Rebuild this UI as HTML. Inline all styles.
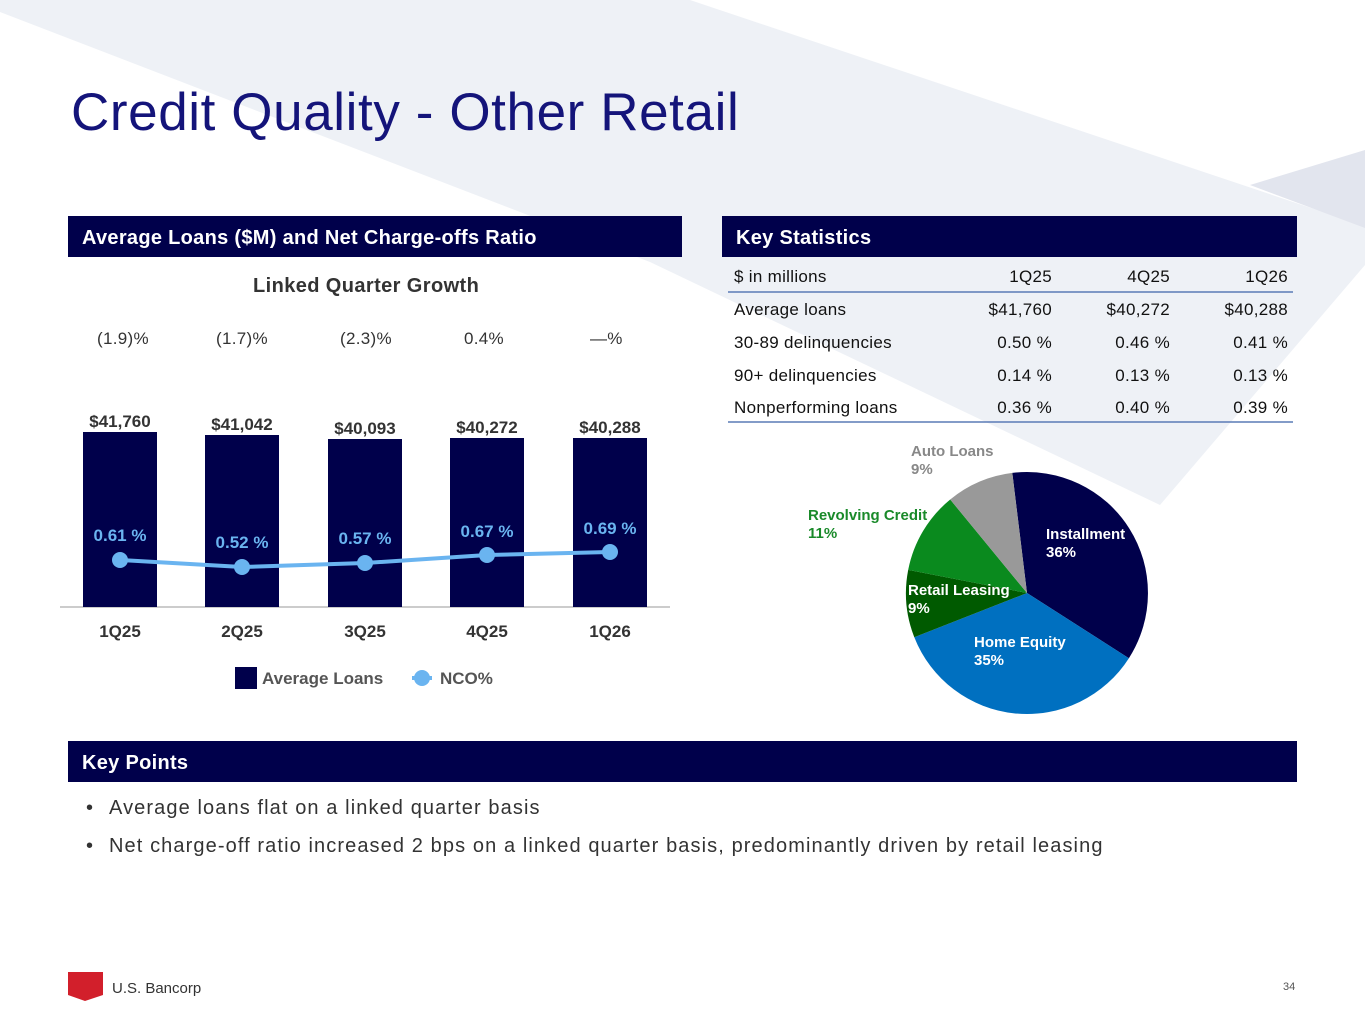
<!DOCTYPE html>
<html><head><meta charset="utf-8"><style>
body{margin:0;width:1365px;height:1024px;position:relative;overflow:hidden;background:#fff;font-family:"Liberation Sans",sans-serif}
.a{position:absolute;white-space:nowrap}
.hdr{position:absolute;background:#00004b;color:#fff;font-weight:bold;font-size:20px;height:41px;line-height:45px;padding-left:14px;box-sizing:border-box;letter-spacing:0.3px}
.t{font-size:17px;color:#111;letter-spacing:0.3px}
.r{text-align:right;width:120px}
</style></head><body>
<svg class="a" style="left:0;top:0" width="1365" height="1024">
<polygon points="0,0 690,0 1365,226 1365,265 1160,505 650,262 0,12" fill="#eef1f6"/>
<polygon points="1250,185 1365,150 1365,228" fill="#e2e5ee"/>
<line x1="60" y1="607" x2="670" y2="607" stroke="#bbb" stroke-width="1.5"/>
<rect x="83" y="432" width="74" height="175" fill="#00004b"/>
<rect x="205" y="435" width="74" height="172" fill="#00004b"/>
<rect x="328" y="439" width="74" height="168" fill="#00004b"/>
<rect x="450" y="438" width="74" height="169" fill="#00004b"/>
<rect x="573" y="438" width="74" height="169" fill="#00004b"/>
<polyline points="120,560 242,567 365,563 487,555 610,552" fill="none" stroke="#6ab4f0" stroke-width="4"/>
<g fill="#6ab4f0"><circle cx="120" cy="560" r="8"/><circle cx="242" cy="567" r="8"/><circle cx="365" cy="563" r="8"/><circle cx="487" cy="555" r="8"/><circle cx="610" cy="552" r="8"/></g>
<g font-family="Liberation Sans" font-weight="bold" font-size="17" fill="#6ab4f0" text-anchor="middle">
<text x="120" y="541">0.61 %</text><text x="242" y="548">0.52 %</text><text x="365" y="544">0.57 %</text><text x="487" y="537">0.67 %</text><text x="610" y="534">0.69 %</text></g>
<g font-family="Liberation Sans" font-weight="bold" font-size="17" fill="#333" text-anchor="middle">
<text x="120" y="427">$41,760</text><text x="242" y="430">$41,042</text><text x="365" y="434">$40,093</text><text x="487" y="433">$40,272</text><text x="610" y="433">$40,288</text>
<text x="120" y="637">1Q25</text><text x="242" y="637">2Q25</text><text x="365" y="637">3Q25</text><text x="487" y="637">4Q25</text><text x="610" y="637">1Q26</text></g>
<rect x="235" y="667" width="22" height="22" fill="#00004b"/>
<text x="262" y="684" font-family="Liberation Sans" font-weight="bold" font-size="17" fill="#555">Average Loans</text>
<line x1="412" y1="678" x2="432" y2="678" stroke="#6ab4f0" stroke-width="4"/><circle cx="422" cy="678" r="8" fill="#6ab4f0"/>
<text x="440" y="684" font-family="Liberation Sans" font-weight="bold" font-size="17" fill="#555">NCO%</text>
<line x1="728" y1="292" x2="1293" y2="292" stroke="#5a7bb5" stroke-width="1.5"/>
<line x1="728" y1="422" x2="1293" y2="422" stroke="#5a7bb5" stroke-width="1.5"/>
<path d="M1027,593 L1012.3,472.9 A121,121 0 0 1 1128.9,658.2 Z" fill="#00004b"/>
<path d="M1027,593 L1128.9,658.2 A121,121 0 0 1 914.3,637.2 Z" fill="#0070c0"/>
<path d="M1027,593 L914.3,637.2 A121,121 0 0 1 908.2,569.9 Z" fill="#005a00"/>
<path d="M1027,593 L908.2,569.9 A121,121 0 0 1 950.2,499.5 Z" fill="#0a8a1e"/>
<path d="M1027,593 L950.2,499.5 A121,121 0 0 1 1012.3,472.9 Z" fill="#999"/>
<g font-family="Liberation Sans" font-weight="bold" font-size="15">
<text x="911" y="456" fill="#888">Auto Loans</text><text x="911" y="474" fill="#888">9%</text>
<text x="808" y="520" fill="#1a8a2a">Revolving Credit</text><text x="808" y="538" fill="#1a8a2a">11%</text>
<text x="908" y="595" fill="#fff">Retail Leasing</text><text x="908" y="613" fill="#fff">9%</text>
<text x="1046" y="539" fill="#fff">Installment</text><text x="1046" y="557" fill="#fff">36%</text>
<text x="974" y="647" fill="#fff">Home Equity</text><text x="974" y="665" fill="#fff">35%</text></g>
<polygon points="68,972 103,972 103,995 85,1001 68,995" fill="#d21f2b"/>
</svg>
<div class="a" style="left:71px;top:82px;font-size:53px;color:#14147a;letter-spacing:0.6px">Credit Quality - Other Retail</div>
<div class="hdr" style="left:68px;top:216px;width:614px">Average Loans ($M) and Net Charge-offs Ratio</div>
<div class="hdr" style="left:722px;top:216px;width:575px">Key Statistics</div>
<div class="hdr" style="left:68px;top:741px;width:1229px">Key Points</div>
<div class="a" style="left:253px;top:275px;font-size:20px;font-weight:bold;color:#333;letter-spacing:0.4px">Linked Quarter Growth</div>
<div class="a t" style="left:97px;top:329px;color:#333">(1.9)%</div>
<div class="a t" style="left:216px;top:329px;color:#333">(1.7)%</div>
<div class="a t" style="left:340px;top:329px;color:#333">(2.3)%</div>
<div class="a t" style="left:464px;top:329px;color:#333">0.4%</div>
<div class="a t" style="left:590px;top:329px;color:#333">—%</div>
<div class="a t" style="left:734px;top:267px">$ in millions</div>
<div class="a t r" style="left:932px;top:267px">1Q25</div><div class="a t r" style="left:1050px;top:267px">4Q25</div><div class="a t r" style="left:1168px;top:267px">1Q26</div>
<div class="a t" style="left:734px;top:300px">Average loans</div>
<div class="a t r" style="left:932px;top:300px">$41,760</div><div class="a t r" style="left:1050px;top:300px">$40,272</div><div class="a t r" style="left:1168px;top:300px">$40,288</div>
<div class="a t" style="left:734px;top:333px">30-89 delinquencies</div>
<div class="a t r" style="left:932px;top:333px">0.50 %</div><div class="a t r" style="left:1050px;top:333px">0.46 %</div><div class="a t r" style="left:1168px;top:333px">0.41 %</div>
<div class="a t" style="left:734px;top:366px">90+ delinquencies</div>
<div class="a t r" style="left:932px;top:366px">0.14 %</div><div class="a t r" style="left:1050px;top:366px">0.13 %</div><div class="a t r" style="left:1168px;top:366px">0.13 %</div>
<div class="a t" style="left:734px;top:398px">Nonperforming loans</div>
<div class="a t r" style="left:932px;top:398px">0.36 %</div><div class="a t r" style="left:1050px;top:398px">0.40 %</div><div class="a t r" style="left:1168px;top:398px">0.39 %</div>
<div class="a" style="left:86px;top:797px;font-size:20px;color:#333">•</div>
<div class="a" style="left:109px;top:797px;font-size:20px;color:#333;letter-spacing:1.1px">Average loans flat on a linked quarter basis</div>
<div class="a" style="left:86px;top:835px;font-size:20px;color:#333">•</div>
<div class="a" style="left:109px;top:835px;font-size:20px;color:#333;letter-spacing:1.1px">Net charge-off ratio increased 2 bps on a linked quarter basis, predominantly driven by retail leasing</div>
<div class="a" style="left:112px;top:980px;font-size:15px;color:#333">U.S. Bancorp</div>
<div class="a" style="left:1283px;top:981px;font-size:11px;color:#555">34</div>
</body></html>
